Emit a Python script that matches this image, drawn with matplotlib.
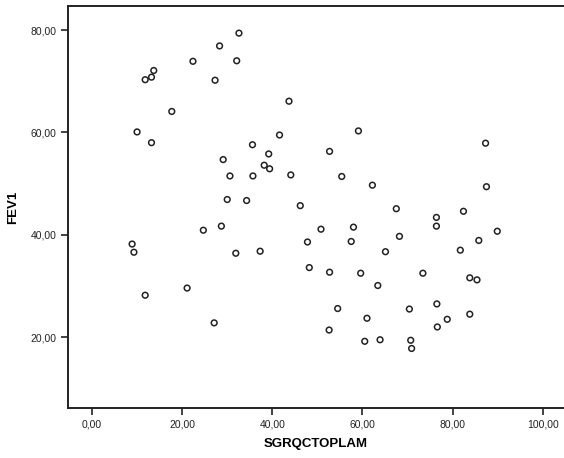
import matplotlib
matplotlib.use("Agg")
import matplotlib.pyplot as plt
from matplotlib.ticker import FuncFormatter

sgrq = [32.6, 28.3, 22.4, 32.1, 13.7, 13.2, 11.8, 27.3, 43.7, 17.7, 10.0, 41.6,
        13.2, 35.6, 39.2, 29.1, 38.2, 39.4, 30.6, 35.7, 44.1, 30.0, 34.3, 46.2,
        59.1, 52.7, 87.3, 55.4, 62.2, 87.5, 67.5, 82.4,
        24.7, 28.7, 8.9, 9.3, 31.9, 37.3, 47.8, 48.2, 11.8, 21.1, 27.1,
        76.4, 76.4, 50.8, 58.0, 89.9, 85.8, 68.2, 57.5, 65.1, 81.7,
        52.7, 59.6, 73.4, 83.8, 85.4, 63.4, 54.5, 70.4, 76.5, 78.8, 83.8,
        61.0, 52.6, 76.6, 60.5, 63.9, 70.7, 70.9]
fev1 = [79.4, 76.9, 73.9, 74.0, 72.1, 70.8, 70.3, 70.2, 66.1, 64.1, 60.1, 59.5,
        58.0, 57.6, 55.8, 54.7, 53.6, 52.9, 51.5, 51.5, 51.7, 46.9, 46.7, 45.7,
        60.3, 56.3, 57.9, 51.4, 49.7, 49.4, 45.1, 44.6,
        40.9, 41.7, 38.2, 36.6, 36.4, 36.8, 38.6, 33.6, 28.2, 29.6, 22.8,
        43.4, 41.7, 41.1, 41.5, 40.7, 38.9, 39.7, 38.7, 36.7, 37.0,
        32.7, 32.5, 32.5, 31.6, 31.2, 30.1, 25.6, 25.5, 26.5, 23.5, 24.5,
        23.7, 21.4, 22.0, 19.2, 19.5, 19.4, 17.8]
xticks = [0, 20, 40, 60, 80, 100]
yticks = [20, 40, 60, 80]

plt.rcParams['font.family'] = ['Liberation Sans', 'DejaVu Sans']

fig = plt.figure(figsize=(5.64, 4.58), dpi=100)
fig.patch.set_facecolor('white')
ax = fig.add_axes([68/564, 1-408/458, 1-68/564, (408-6)/458])
ax.scatter(sgrq, fev1, s=17, facecolors='none', edgecolors='#222222', linewidths=1.1)
ax.set_xlim(-5.32, 104.7)
ax.set_ylim(6.17, 84.7)
ax.set_xticks(xticks)
ax.set_yticks(yticks)
fmt = FuncFormatter(lambda v, p: f"{v:.2f}".replace('.', ','))
ax.xaxis.set_major_formatter(fmt)
ax.yaxis.set_major_formatter(fmt)
ax.tick_params(direction='out', length=5, width=1.2, labelsize=7.5, colors='#222222')
for s in ax.spines.values():
    s.set_linewidth(1.4)
    s.set_color('#222222')
ax.spines['right'].set_visible(False)
ax.set_xlabel('SGRQCTOPLAM', fontsize=9.5, fontweight='bold', labelpad=6)
ax.set_ylabel('FEV1', fontsize=9.5, fontweight='bold', labelpad=8)
fig.savefig('out.png', dpi=100)
